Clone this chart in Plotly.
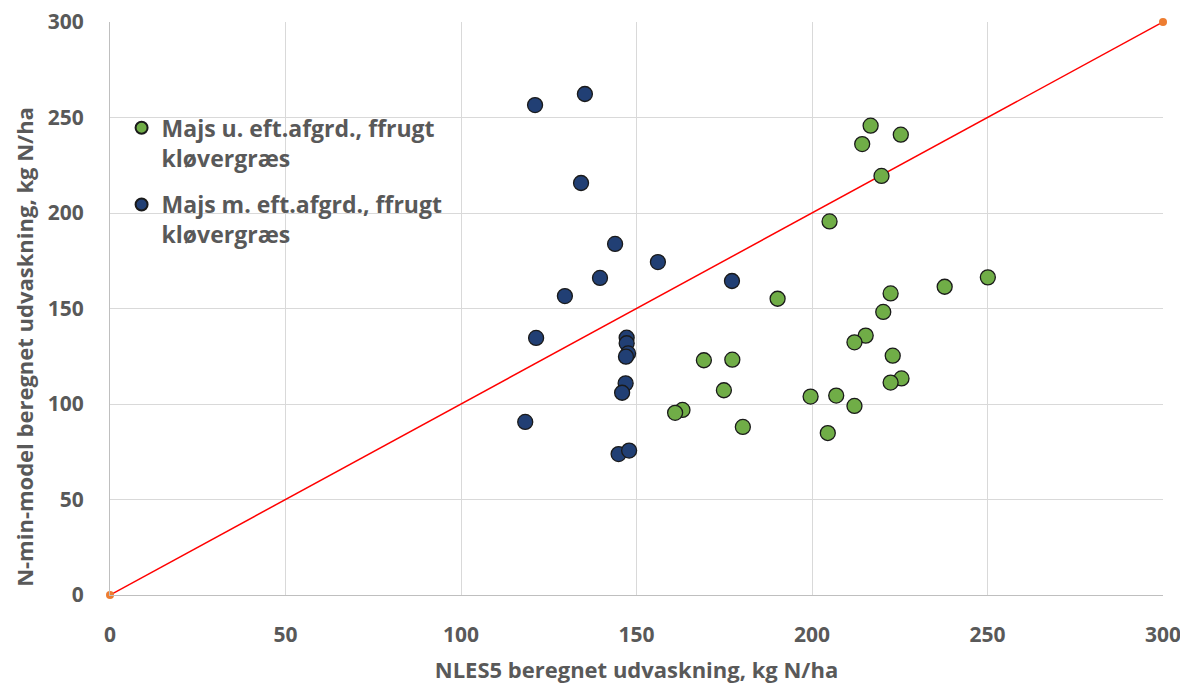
import plotly.graph_objects as go

green_x = [216.7, 225.3, 214.3, 219.8, 205.0, 190.2, 250.1, 237.8, 222.4, 220.3, 215.3, 212.1, 223.0, 225.5, 222.4,
           169.2, 177.3, 174.9, 199.6, 206.9, 212.1, 180.3, 204.5, 163.1, 161.0]
green_y = [245.7, 241.0, 236.1, 219.4, 195.6, 155.1, 166.3, 161.4, 157.9, 148.2, 135.8, 132.3, 125.3, 113.4, 111.2,
           122.9, 123.2, 107.2, 103.9, 104.4, 99.0, 88.0, 84.8, 96.9, 95.4]

blue_x = [121.1, 135.3, 134.2, 143.9, 139.6, 156.1, 129.6, 177.2, 121.4, 147.2, 147.2, 147.6, 147.0, 146.9, 145.9,
          118.3, 144.9, 147.9]
blue_y = [256.5, 262.3, 215.7, 183.8, 166.0, 174.3, 156.5, 164.4, 134.6, 134.7, 131.8, 126.5, 124.8, 110.8, 105.9,
          90.6, 73.8, 75.6]

line_x = [0, 300]
line_y = [0, 300]

name_green = "Majs u. eft.afgrd., ffrugt<br>kløvergræs"
name_blue = "Majs m. eft.afgrd., ffrugt<br>kløvergræs"

fig = go.Figure()
fig.add_trace(go.Scatter(x=line_x, y=line_y, mode="lines+markers", showlegend=False,
                         line=dict(color="#FF0000", width=1.5),
                         marker=dict(color="#ED7D31", size=8), cliponaxis=False))
fig.add_trace(go.Scatter(x=green_x, y=green_y, mode="markers", name=name_green, legendgroup="g",
                         marker=dict(color="#70AD47", size=15, line=dict(color="#1a1a1a", width=1.3))))
fig.add_trace(go.Scatter(x=blue_x, y=blue_y, mode="markers", name=name_blue, legendgroup="b",
                         marker=dict(color="#213F74", size=15, line=dict(color="#1a1a1a", width=1.3))))

gray = "#595959"
fig.update_layout(
    width=1180, height=677,
    margin=dict(l=102, r=25, t=14, b=90),
    paper_bgcolor="white", plot_bgcolor="white",
    font=dict(family="Open Sans, sans-serif", color=gray),
    legend=dict(x=0.011, y=0.853, xanchor="left", yanchor="top",
                font=dict(size=23, color=gray, weight="bold"),
                bgcolor="rgba(0,0,0,0)", valign="top", tracegroupgap=14,
                itemsizing="constant", itemwidth=30),
    xaxis=dict(range=[0, 300], dtick=50, showgrid=True, gridcolor="#D9D9D9", gridwidth=1,
               zeroline=False, showline=True, linecolor="#BFBFBF", linewidth=1, automargin=False,
               ticks="", ticklabelstandoff=21, ticklabeloverflow="allow",
               tickfont=dict(family="Open Sans, sans-serif", size=21, color=gray, weight="bold"),
               title=dict(text="NLES5 beregnet udvaskning, kg N/ha", standoff=15,
                          font=dict(family="Open Sans, sans-serif", size=22, color=gray, weight="bold"))),
    yaxis=dict(range=[0, 300], dtick=50, showgrid=True, gridcolor="#D9D9D9", gridwidth=1,
               zeroline=False, showline=True, linecolor="#BFBFBF", linewidth=1, automargin=False,
               ticks="", ticklabelstandoff=21, ticklabeloverflow="allow",
               tickfont=dict(family="Open Sans, sans-serif", size=21, color=gray, weight="bold")),
    annotations=[dict(text="N-min-model beregnet udvaskning, kg N/ha", xref="paper", yref="paper",
                      x=-0.0817, y=0.433, textangle=-90, showarrow=False, xanchor="center", yanchor="middle",
                      font=dict(family="Open Sans, sans-serif", size=22, color=gray, weight="bold"))],
)

fig.write_html("out.html")
